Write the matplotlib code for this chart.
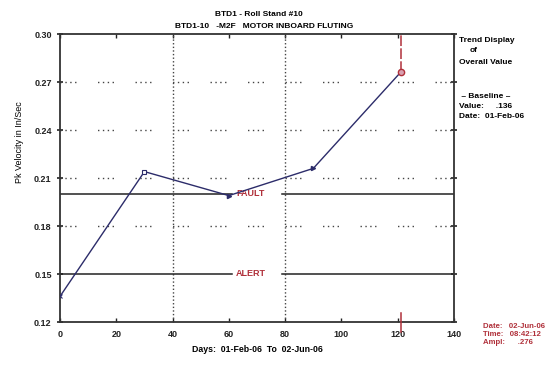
import matplotlib
matplotlib.use("Agg")
import matplotlib.pyplot as plt

# Trend data: days since baseline and overall peak velocity (in/sec)
days = [0, 30, 60, 90, 121]
velocity = [0.136, 0.214, 0.199, 0.216, 0.276]

fault_level = 0.200
alert_level = 0.150

y_ticks = [0.12, 0.15, 0.18, 0.21, 0.24, 0.27, 0.30]
y_tick_labels = ["0.12", "0.15", "0.18", "0.21", "0.24", "0.27", "0.30"]
x_ticks = [0, 20, 40, 60, 80, 100, 120, 140]
x_tick_labels = ["0", "20", "40", "60", "80", "100", "120", "140"]
x_grid = [40, 80]
y_grid = [0.18, 0.21, 0.24, 0.27]

W, H = 553, 368
FONT = "Liberation Sans"
RED = "#b0303a"
LINE = "#2c2c6a"

fig = plt.figure(figsize=(W / 100, H / 100), dpi=100)
fig.patch.set_facecolor("white")
ax = fig.add_axes([60 / W, 1 - 322 / H, (454 - 60) / W, (322 - 34) / H])
ax.set_xlim(0, 140)
ax.set_ylim(0.12, 0.30)

for s in ax.spines.values():
    s.set_linewidth(1.3)
    s.set_color("#333333")

# Dotted reference grid
for g in y_grid:
    ax.axhline(g, color="#444444", lw=1.0,
               linestyle=(0, (1, 2.5, 1, 2.5, 1, 2.5, 1, 15.5)),
               dash_capstyle="butt")
for g in x_grid:
    ax.axvline(g, color="#444444", lw=1.0, linestyle=(0, (1, 1.6)),
               dash_capstyle="butt")

# Fault and alert limits with gaps for their labels
for level, name in [(fault_level, "FAULT"), (alert_level, "ALERT")]:
    ax.plot([0, 61], [level, level], color="#222222", lw=1.1)
    ax.plot([79, 140], [level, level], color="#222222", lw=1.1)
    ax.text(67.7, level, name, color=RED, fontsize=6.5, fontweight="bold",
            family=FONT, ha="center", va="center")

# Trend line
ax.plot(days, velocity, color=LINE, lw=1.0, zorder=3)
ax.plot(days[0], velocity[0], marker="x", ms=3, color=LINE, mew=0.8, zorder=4)
ax.plot(days[1], velocity[1], marker="s", ms=3.5, mfc="white", mec=LINE,
        mew=0.8, zorder=4)
for d, v in zip(days[2:4], velocity[2:4]):
    ax.plot(d, v, marker=">", ms=3, color=LINE, zorder=4)

# Latest reading cursor
last_d, last_v = days[-1], velocity[-1]
ax.plot([last_d, last_d], [last_v, 0.30], color=RED, lw=1.1,
        linestyle=(0, (7, 1.5)), zorder=3)
ax.plot([last_d, last_d], [0.1138, 0.1256], color=RED, lw=1.1,
        clip_on=False, zorder=3)
ax.plot(last_d, last_v, marker="o", ms=4.5, mfc="#d9a0b0", mec=RED,
        mew=1.0, zorder=5)

# Ticks
ax.set_yticks(y_ticks)
ax.set_yticklabels(y_tick_labels)
ax.set_xticks(x_ticks)
ax.set_xticklabels(x_tick_labels)
ax.tick_params(axis="y", direction="inout", length=4, width=1.2,
               left=True, right=True, labelsize=6.5, pad=4, colors="#222222")
ax.tick_params(axis="x", direction="in", length=3, width=1.0,
               top=True, bottom=True, labelsize=6.5, pad=6, colors="#222222")
for lbl in ax.get_xticklabels() + ax.get_yticklabels():
    lbl.set_family(FONT)
    lbl.set_fontweight("bold")

ax.set_xlabel("Days:  01-Feb-06  To  02-Jun-06", fontsize=6.3,
              family=FONT, fontweight="bold", labelpad=4)


def ftext(x, y, s, **kw):
    base = dict(fontsize=6, family=FONT, fontweight="bold", va="center")
    base.update(kw)
    fig.text(x / W, 1 - y / H, s, **base)


ftext(20, 142, "Pk Velocity in In/Sec", rotation=90, ha="center",
      fontweight="normal", fontsize=6.5)

ftext(259, 15, "BTD1 - Roll Stand #10", ha="center")
ftext(264, 27, "BTD1-10   -M2F   MOTOR INBOARD FLUTING", ha="center")

ftext(459, 40, "Trend Display")
ftext(470, 51, "of")
ftext(459, 62, "Overall Value")
ftext(459, 97, " \u2013 Baseline \u2013")
ftext(459, 107, "Value:     .136")
ftext(459, 117, "Date:  01-Feb-06")

ftext(483, 327, "Date:   02-Jun-06", color=RED, fontsize=5.6)
ftext(483, 334.5, "Time:   08:42:12", color=RED, fontsize=5.6)
ftext(483, 342, "Ampl:      .276", color=RED, fontsize=5.6)

fig.savefig("out.png", dpi=100, facecolor="white")
